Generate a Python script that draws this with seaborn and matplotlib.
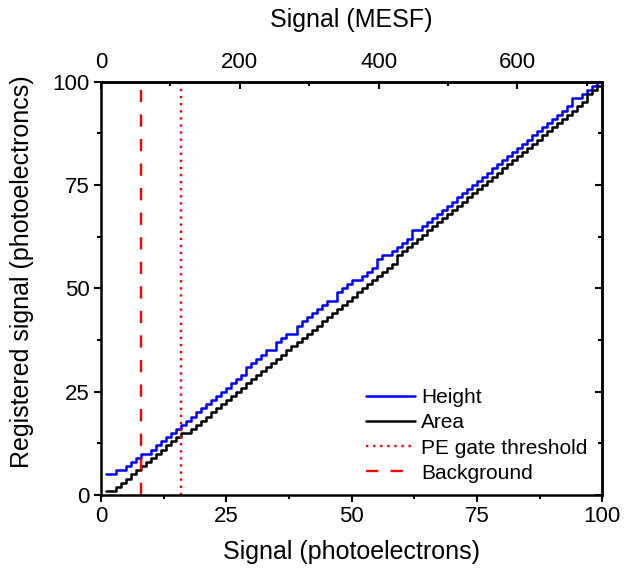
import numpy as np
import pandas as pd
import seaborn as sns
import matplotlib.pyplot as plt

# signal grid (photoelectrons)
signal_pe = np.arange(1, 101)

# registered signal
height_vals = [5, 5, 6, 6, 7, 8, 9, 10, 10, 11,
               12, 13, 14, 15, 16, 17, 18, 19, 20, 21,
               22, 23, 24, 25, 26, 27, 28, 29, 31, 32,
               33, 34, 35, 35, 37, 38, 39, 39, 41, 42,
               43, 44, 45, 46, 47, 47, 49, 50, 51, 52,
               52, 53, 54, 55, 57, 58, 58, 59, 60, 61,
               62, 64, 64, 65, 66, 67, 68, 69, 70, 71,
               72, 73, 74, 75, 76, 77, 78, 79, 80, 81,
               82, 83, 84, 85, 86, 87, 88, 89, 90, 91,
               92, 93, 94, 96, 96, 97, 98, 99, 100, 100]
area_vals = [1, 1, 2, 3, 4, 5, 6, 7, 8, 9,
             10, 11, 12, 13, 14, 15, 15, 16, 17, 18,
             19, 20, 21, 22, 23, 24, 25, 26, 27, 28,
             29, 30, 31, 32, 33, 34, 35, 36, 37, 38,
             39, 40, 41, 42, 43, 44, 45, 46, 47, 48,
             49, 50, 51, 52, 53, 54, 55, 56, 58, 59,
             60, 61, 62, 63, 64, 65, 66, 67, 68, 69,
             70, 71, 72, 73, 74, 75, 76, 77, 78, 79,
             80, 81, 82, 83, 84, 85, 86, 87, 88, 89,
             90, 91, 92, 93, 94, 95, 97, 98, 99, 100]

background_pe = 8
gate_threshold_pe = 16
mesf_per_pe = 7.22

sns.set_theme(style="ticks")
plt.rcParams["font.family"] = ["Liberation Sans", "DejaVu Sans"]
plt.rcParams.update({"text.color": "black", "axes.labelcolor": "black",
                     "xtick.color": "black", "ytick.color": "black",
                     "axes.edgecolor": "black"})

df = pd.DataFrame({"signal": signal_pe, "Height": height_vals, "Area": area_vals})

fig = plt.figure(figsize=(6.24, 5.75), dpi=100)
ax = fig.add_axes([0.162, 0.139, 0.803, 0.719])

sns.lineplot(data=df, x="signal", y="Height", color="#0000ff", lw=1.8,
             drawstyle="steps-post", label="Height", ax=ax)
sns.lineplot(data=df, x="signal", y="Area", color="black", lw=1.8,
             drawstyle="steps-post", label="Area", ax=ax)
ax.axvline(gate_threshold_pe, color="red", lw=1.7, dashes=(1, 2), label="PE gate threshold")
ax.axvline(background_pe, color="red", lw=1.7, dashes=(5.2, 5.2), label="Background")

ax.set_xlim(0, 100)
ax.set_ylim(0, 100)
ax.set_xticks([0, 25, 50, 75, 100])
ax.set_yticks([0, 25, 50, 75, 100])
ax.set_xticks([12.5, 37.5, 62.5, 87.5], minor=True)
ax.set_yticks([12.5, 37.5, 62.5, 87.5], minor=True)
ax.tick_params(which="major", direction="out", length=5, width=1.5, labelsize=16, pad=3)
ax.tick_params(which="minor", direction="out", length=3, width=1.5)
for s in ax.spines.values():
    s.set_visible(True)
    s.set_linewidth(1.8)

ax.set_xlabel("Signal (photoelectrons)", fontsize=18, labelpad=9)
ax.set_ylabel("Registered signal (photoelectroncs)", fontsize=18)
ax.yaxis.set_label_coords(-0.134, 0.54)

# top axis in MESF
top = ax.secondary_xaxis("top", functions=(lambda v: v * mesf_per_pe, lambda v: v / mesf_per_pe))
top.set_xticks([0, 200, 400, 600])
top.set_xticks([100, 300, 500, 700], minor=True)
top.tick_params(which="major", direction="in", length=5, width=1.5, labelsize=16, pad=6)
top.tick_params(which="minor", direction="in", length=3, width=1.5)
top.set_xlabel("Signal (MESF)", fontsize=18, labelpad=18)
top.spines["top"].set_linewidth(1.8)

right = ax.secondary_yaxis("right")
right.set_yticks([0, 25, 50, 75, 100])
right.set_yticks([12.5, 37.5, 62.5, 87.5], minor=True)
right.tick_params(which="major", direction="in", length=5, width=1.5, labelright=False)
right.tick_params(which="minor", direction="in", length=3, width=1.5)
right.spines["right"].set_linewidth(1.8)

ax.legend(loc="lower right", frameon=False, fontsize=15, handlelength=2.35,
          handletextpad=0.3, labelspacing=0.29, borderaxespad=0.2,
          bbox_to_anchor=(0.995, 0.0))

fig.savefig("out.png", dpi=100)
